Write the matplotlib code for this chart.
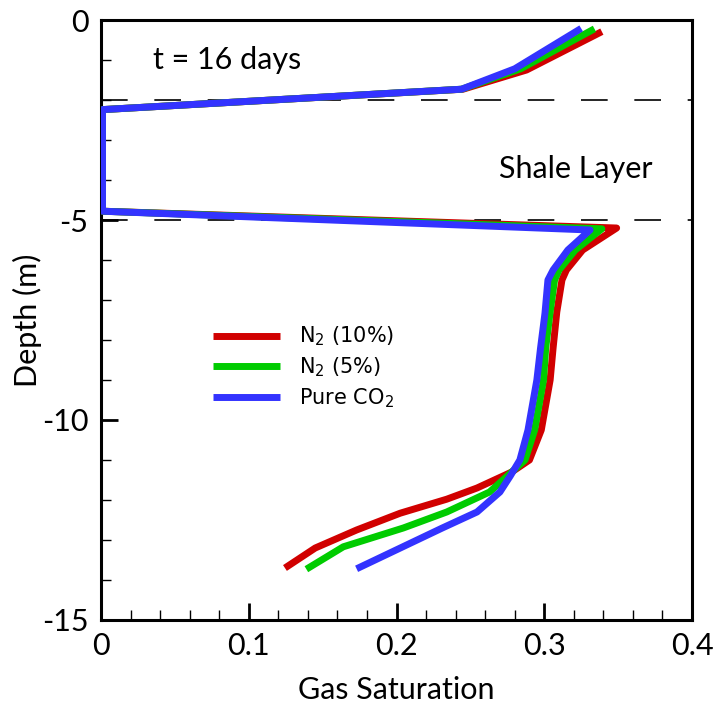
import matplotlib
matplotlib.use("Agg")
import matplotlib.pyplot as plt
from matplotlib.ticker import MultipleLocator

plt.rcParams['font.family'] = ['Lato', 'DejaVu Sans']
plt.rcParams['mathtext.fontset'] = 'custom'
plt.rcParams['mathtext.rm'] = 'DejaVu Sans'

# Data (gas saturation, depth in m)
red_sat = [0.339, 0.288, 0.245, 0.001, 0.001, 0.349, 0.326, 0.315, 0.312, 0.3085, 0.306, 0.304,
           0.298, 0.290, 0.278, 0.2545, 0.234, 0.2025, 0.173, 0.145, 0.1245]
red_depth = [-0.29, -1.25, -1.73, -2.24, -4.78, -5.2, -5.75, -6.25, -6.5, -7.3, -8.2, -9.0,
             -10.25, -11.0, -11.3, -11.7, -11.98, -12.33, -12.75, -13.2, -13.7]

green_sat = [0.334, 0.284, 0.244, 0.001, 0.001, 0.339, 0.321, 0.310, 0.307, 0.304, 0.301, 0.2995,
             0.2935, 0.287, 0.278, 0.263, 0.234, 0.2046, 0.164, 0.139]
green_depth = [-0.22, -1.22, -1.73, -2.24, -4.78, -5.22, -5.75, -6.25, -6.5, -7.3, -8.2, -9.0,
               -10.25, -11.0, -11.3, -11.8, -12.3, -12.7, -13.17, -13.73]

blue_sat = [0.325, 0.280, 0.244, 0.001, 0.001, 0.331, 0.316, 0.306, 0.3025, 0.3005, 0.2975, 0.295,
            0.289, 0.2835, 0.277, 0.270, 0.2545, 0.231, 0.173]
blue_depth = [-0.21, -1.22, -1.73, -2.24, -4.78, -5.25, -5.75, -6.25, -6.5, -7.33, -8.2, -9.0,
              -10.25, -11.0, -11.4, -11.8, -12.3, -12.7, -13.72]

series_labels = ["N$_2$ (10%)", "N$_2$ (5%)", "Pure CO$_2$"]
layer_depths = [-2, -5]

fig = plt.figure(figsize=(7.17, 7.2), dpi=100)
ax = fig.add_axes([0.1409, 0.1389, 0.8242, 0.8333])

lw = 5.0
ax.plot(red_sat, red_depth, color='#d10000', lw=lw, label=series_labels[0], solid_capstyle='butt', zorder=3)
ax.plot(green_sat, green_depth, color='#00cc00', lw=lw, label=series_labels[1], solid_capstyle='butt', zorder=4)
ax.plot(blue_sat, blue_depth, color='#3333ff', lw=lw, label=series_labels[2], solid_capstyle='butt', zorder=5)

for d in layer_depths:
    ax.axhline(d, color='black', lw=1.2, dashes=(16, 16), zorder=2)

ax.set_xlim(0, 0.4)
ax.set_ylim(-15, 0)
ax.xaxis.set_major_locator(MultipleLocator(0.1))
ax.xaxis.set_minor_locator(MultipleLocator(0.02))
ax.yaxis.set_major_locator(MultipleLocator(5))
ax.yaxis.set_minor_locator(MultipleLocator(1))
ax.xaxis.set_major_formatter(plt.FuncFormatter(lambda v, p: '0' if abs(v) < 1e-9 else f'{v:.1f}'))
ax.yaxis.set_major_formatter(plt.FuncFormatter(lambda v, p: f'{v:.0f}'))
ax.tick_params(which='both', direction='in', top=False, right=False, labelsize=22)
ax.tick_params(which='major', length=12, width=2)
ax.tick_params(which='minor', length=7, width=1)
ax.tick_params(axis='x', pad=9)
ax.tick_params(axis='y', pad=9)
for s in ax.spines.values():
    s.set_linewidth(2.2)

ax.set_xlabel('Gas Saturation', fontsize=22, labelpad=11)
ax.set_ylabel('Depth (m)', fontsize=22, labelpad=0)

ax.text(0.035, -1.0, 't = 16 days', fontsize=22, va='center', ha='left')
ax.text(0.3215, -3.73, 'Shale Layer', fontsize=22, va='center', ha='center')

leg = ax.legend(loc='upper left', bbox_to_anchor=(0.19, 0.492), frameon=False,
                prop={'family': 'DejaVu Sans', 'size': 15}, borderpad=0, borderaxespad=0,
                handlelength=3.2, handletextpad=0.9, labelspacing=0.35)
for h in leg.get_lines():
    h.set_linewidth(5)

fig.savefig('out.png', dpi=100)
